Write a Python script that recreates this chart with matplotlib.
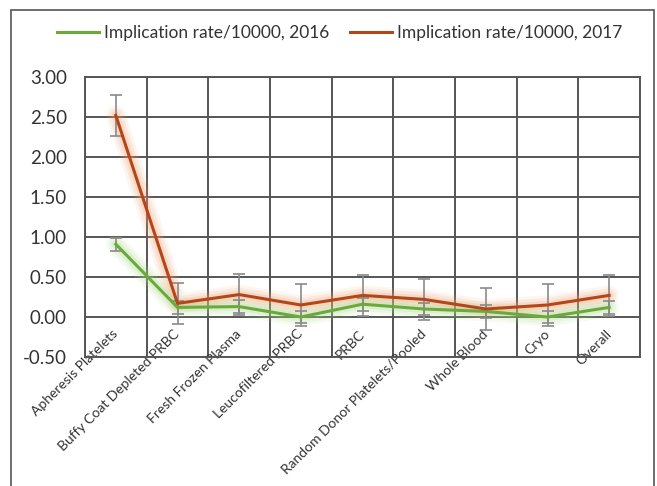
import matplotlib
matplotlib.use("Agg")
import matplotlib.pyplot as plt
import numpy as np
from matplotlib.patches import Rectangle

categories = ["Apheresis Platelets", "Buffy Coat Depleted PRBC", "Fresh Frozen Plasma",
              "Leucofiltered PRBC", "PRBC", "Random Donor Platelets/Pooled",
              "Whole Blood", "Cryo", "Overall"]
rate_2016 = [0.91, 0.12, 0.13, 0.00, 0.16, 0.10, 0.07, 0.00, 0.12]
rate_2017 = [2.52, 0.17, 0.28, 0.15, 0.27, 0.22, 0.10, 0.15, 0.27]
err_2016 = [0.08, 0.08, 0.08, 0.08, 0.08, 0.08, 0.08, 0.08, 0.08]
err_2017 = [0.26, 0.26, 0.26, 0.26, 0.26, 0.26, 0.26, 0.26, 0.26]
y_ticks = [-0.5, 0.0, 0.5, 1.0, 1.5, 2.0, 2.5, 3.0]
series_labels = ["Implication rate/10000, 2016", "Implication rate/10000, 2017"]

plt.rcParams['font.family'] = ['Lato', 'DejaVu Sans']

fig = plt.figure(figsize=(6.57, 4.86), dpi=100)
ax = fig.add_axes([85/657, 1-357/486, 555/657, 280/486])

x = np.arange(len(categories))
green = "#6aaa3a"
orange = "#b4471a"

# glow
for w, a in [(14, 0.10), (10, 0.15), (6, 0.2)]:
    ax.plot(x, rate_2017, color="#f4a070", lw=w, alpha=a, solid_capstyle='round', zorder=3)
    ax.plot(x, rate_2016, color="#a8d888", lw=w, alpha=a, solid_capstyle='round', zorder=3)

ax.errorbar(x, rate_2016, yerr=err_2016, fmt='none', ecolor="#8a8a8a", elinewidth=1.2,
            capsize=4, capthick=1.2, zorder=4)
ax.errorbar(x, rate_2017, yerr=err_2017, fmt='none', ecolor="#8a8a8a", elinewidth=1.2,
            capsize=4, capthick=1.2, zorder=4)
l1, = ax.plot(x, rate_2016, color=green, lw=2.2, zorder=5, label=series_labels[0])
l2, = ax.plot(x, rate_2017, color=orange, lw=2.2, zorder=5, label=series_labels[1])

ax.set_xlim(-0.5, len(categories) - 0.5)
ax.set_ylim(-0.5, 3.0)
ax.set_yticks(y_ticks)
ax.set_yticklabels([f"{v:.2f}" for v in y_ticks], fontsize=13.5, color="#333333")
ax.tick_params(axis='y', length=0, pad=13)

# gridlines
for yv in y_ticks:
    ax.axhline(yv, color="#555555", lw=1.4, zorder=1)
for xv in np.arange(-0.5, len(categories), 1.0):
    ax.axvline(xv, color="#555555", lw=1.4, zorder=1)
for s in ax.spines.values():
    s.set_color("#555555")
    s.set_linewidth(1.4)

ax.set_xticks(x)
ax.set_xticklabels(categories, rotation=45, ha='right', va='center',
                   rotation_mode='anchor', fontsize=10, color="#333333")
ax.tick_params(axis='x', length=0, pad=-18)

# figure border
fig.patches.append(Rectangle((11/657, -0.1), 643/657, 1.1 - 10/486,
                             transform=fig.transFigure, fill=False,
                             edgecolor="#555555", lw=1.2))

fig.legend(handles=[l1, l2], loc='center', bbox_to_anchor=(340/657, 1-33/486), ncol=2,
           frameon=False, fontsize=12.5, handlelength=2.4, columnspacing=1.2,
           handletextpad=0.3, labelcolor="#333333")

fig.savefig("out.png", dpi=100)
